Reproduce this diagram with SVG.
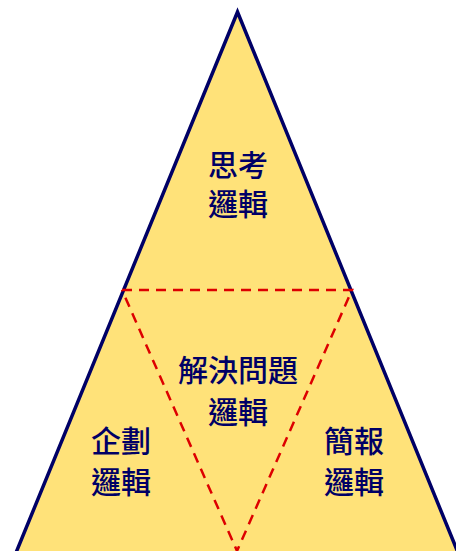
<svg xmlns="http://www.w3.org/2000/svg" width="456" height="551" viewBox="0 0 456 551">
<style>
.lbl{font-family:"Noto Sans CJK TC","Noto Sans CJK SC",sans-serif;font-size:30px;font-weight:500;fill:#000066;text-anchor:middle}
.outer{fill:#FFE279;stroke:#000066;stroke-width:3.5;stroke-linejoin:miter}
.dash{fill:none;stroke:#DD0000;stroke-width:2.5;stroke-dasharray:10 7}
</style>
<rect width="456" height="551" fill="#ffffff"/>
<g id="pyramid">
<polygon class="outer" points="237.5,12 13,560 461,560"/>
</g>
<g id="connectors">
<polyline class="dash" points="122,290 352,290 237,551 122,290"/>
</g>
<g id="thinking">
<text class="lbl" x="238" y="175.5">思考</text>
<text class="lbl" x="238" y="214.5">邏輯</text>
</g>
<g id="problem-solving">
<text class="lbl" x="238" y="381">解決問題</text>
<text class="lbl" x="238" y="423">邏輯</text>
</g>
<g id="planning">
<text class="lbl" x="121" y="452">企劃</text>
<text class="lbl" x="121" y="493">邏輯</text>
</g>
<g id="presentation">
<text class="lbl" x="354" y="452">簡報</text>
<text class="lbl" x="354" y="493">邏輯</text>
</g>
</svg>
